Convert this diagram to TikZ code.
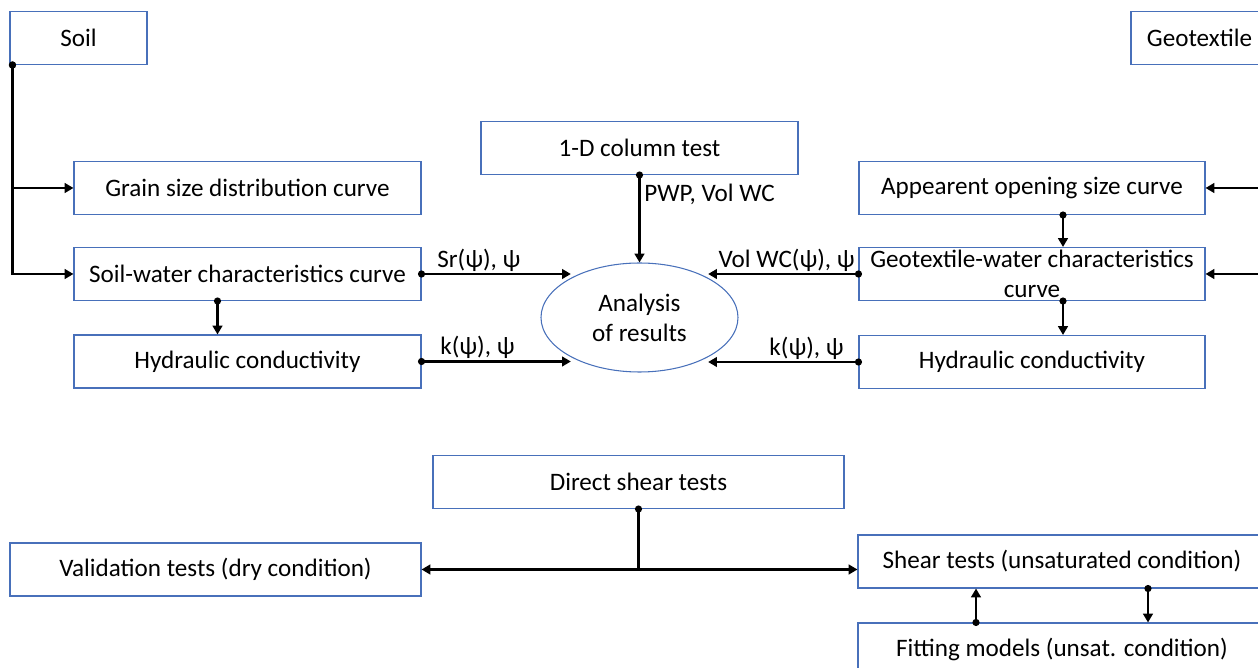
\documentclass[tikz,border=0pt]{standalone}
\usepackage{fontspec}
\setmainfont{Carlito}
\usepackage{tikz}
\usetikzlibrary{calc, positioning, arrows.meta, shapes.geometric}
\definecolor{boxblue}{RGB}{72,112,186}
\newcommand{\boxfont}{\fontsize{14.3}{17}\selectfont}
\tikzset{
	box/.style={draw=boxblue, line width=0.6pt, minimum height=10.6mm, inner sep=1pt, text centered, font=\boxfont},
	lbl/.style={inner sep=1pt, font=\boxfont},
	flow/.style={line width=1.2pt, -{Triangle[length=5pt,width=5.5pt]}},
	dotflow/.style={line width=1.2pt, shorten <=-2pt, {Circle[length=4pt]}-{Triangle[length=5pt,width=5.5pt]}},
	dotline/.style={line width=1.2pt, shorten <=-2pt, {Circle[length=4pt]}-}
}

\begin{document}
\begin{tikzpicture}
			[x=0.2mm, y=-0.2mm]
		\useasboundingbox (0,0) rectangle (1258,668);
		% nodes %
		\node[box, minimum width=27.4mm] (soil) at (78.5,38) {Soil};
		\node[box, minimum width=69.4mm] (grain) at (247.5,188) {Grain size distribution curve};
		\node[box, minimum width=69.4mm] (swcc) at (247.5,274) {Soil-water characteristics curve};
		\node[box, minimum width=69.4mm] (hydl) at (247.5,361.5) {Hydraulic conductivity};
		\node[box, minimum width=63.4mm] (column) at (639.5,148) {1-D column test};
		\node[ellipse, draw=boxblue, line width=0.6pt, inner sep=0pt, minimum width=39.4mm, minimum height=21.8mm, align=center, font=\boxfont] (analysis) at (639.5,317.5) {Analysis\\of results};
		\node[box, minimum width=27.4mm] (geo) at (1199.5,38) {Geotextile};
		\node[box, minimum width=69.2mm] (aos) at (1032,188) {Appearent opening size curve};
		\node[box, minimum width=69.2mm, inner ysep=0pt, align=center] (gwcc) at (1032,274) {Geotextile-water characteristics\\curve};
		\node[box, minimum width=69.2mm] (hydr) at (1032,362) {Hydraulic conductivity};
		\node[box, minimum width=82.2mm] (direct) at (638.5,482) {Direct shear tests};
		\node[box, minimum width=82.2mm] (valid) at (215.5,569.5) {Validation tests (dry condition)};
		\node[box, minimum width=81.6mm] (shear) at (1062,561.5) {Shear tests (unsaturated condition)};
		\node[box, minimum width=81.6mm] (fit) at (1062,649.5) {Fitting models (unsat. condition)};

		% edges %
		\coordinate (soiltap) at ($(soil.south west)+(3,0)$);
		\draw[dotflow] (soiltap) |- (grain.west);
		\draw[dotflow] (soiltap) |- (swcc.west);
		\draw[dotflow] ([xshift=-6mm]swcc.south) -- ([xshift=-6mm]hydl.north);

		\coordinate (geotap) at ($(geo.south east)+(-3,0)$);
		\draw[dotflow] (geotap) |- (aos.east);
		\draw[dotflow] (geotap) |- (gwcc.east);
		\draw[dotflow] ([xshift=6.2mm]aos.south) -- ([xshift=6.2mm]gwcc.north);
		\draw[dotflow] ([xshift=6.2mm]gwcc.south) -- ([xshift=6.2mm]hydr.north);

		\draw[dotflow] (column.south) -- (analysis.north)
			node[lbl, pos=0, anchor=north west, xshift=0.4mm, yshift=-1.2mm] {PWP, Vol WC};
		\draw[dotflow] (swcc.east) -- (swcc.east -| analysis.150)
			node[lbl, pos=0, anchor=south west, xshift=2.6mm] {Sr(ψ), ψ};
		\draw[dotflow] (hydl.east) -- (hydl.east -| analysis.210)
			node[lbl, pos=0, anchor=south west, xshift=3.2mm] {k(ψ), ψ};
		\draw[dotflow] (gwcc.west) -- (gwcc.west -| analysis.30)
			node[lbl, pos=0, anchor=south east, xshift=-0.2mm] {Vol WC(ψ), ψ};
		\draw[dotflow] (hydr.west) -- (hydr.west -| analysis.330)
			node[lbl, pos=0, anchor=south east, xshift=-2.4mm] {k(ψ), ψ};

		\coordinate (split) at (direct.south |- valid.east);
		\draw[dotline] (direct.south) -- (split);
		\draw[flow] (split) -- (valid.east);
		\draw[flow] (split) -- (split -| shear.west);
		\draw[dotflow] ([xshift=-17.2mm]fit.north) -- ([xshift=-17.2mm]shear.south);
		\draw[dotflow] ([xshift=17.2mm]shear.south) -- ([xshift=17.2mm]fit.north);
		\end{tikzpicture}
\end{document}
